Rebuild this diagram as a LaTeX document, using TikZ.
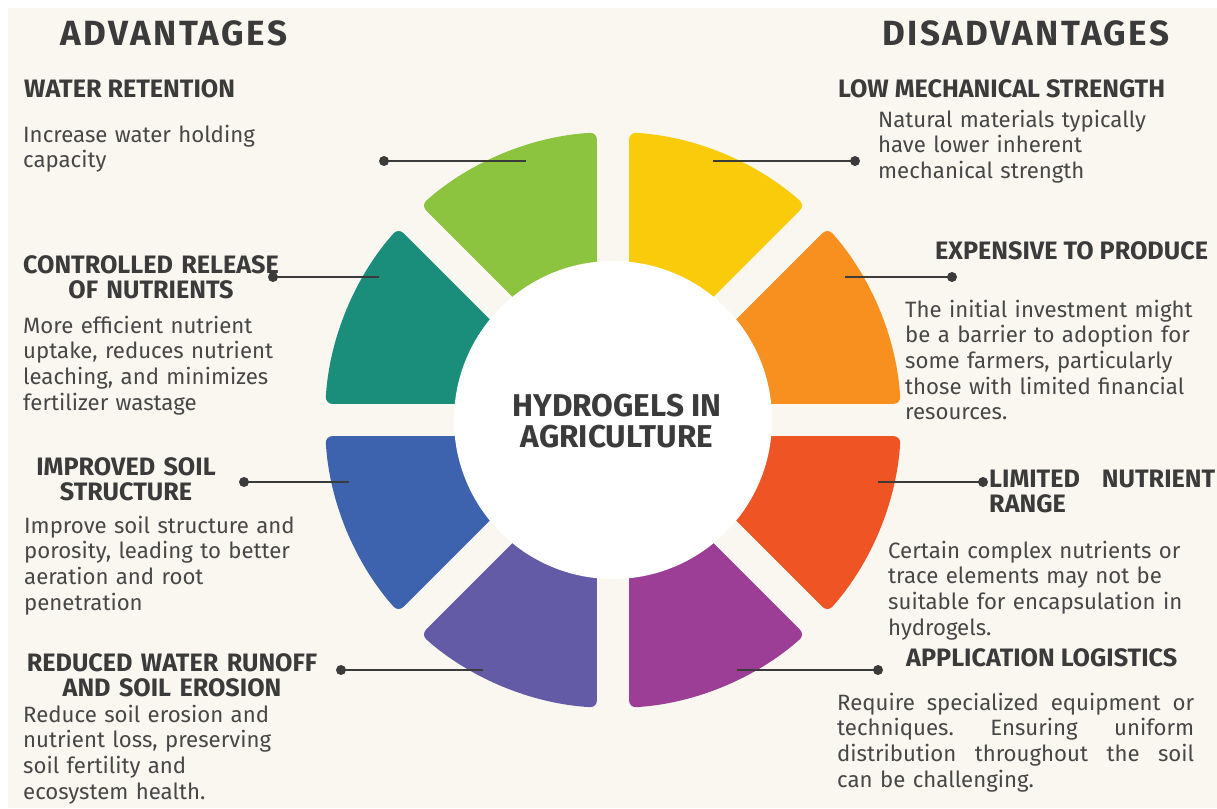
\documentclass[tikz,border=0pt]{standalone}
\usepackage{fontspec}
\setmainfont{Fira Sans}

\definecolor{bgcream}{HTML}{FAF7F1}
\definecolor{inkgray}{HTML}{3B3B3B}
\definecolor{bodygray}{HTML}{474747}
\definecolor{segorange}{HTML}{F7901E}
\definecolor{segyellow}{HTML}{F9CB0B}
\definecolor{seggreen}{HTML}{8DC43F}
\definecolor{segteal}{HTML}{1A8E7A}
\definecolor{segblue}{HTML}{3D63AE}
\definecolor{segviolet}{HTML}{645BA7}
\definecolor{segmagenta}{HTML}{9C3E96}
\definecolor{segred}{HTML}{EF5424}

\newcommand\spreadline[2]{\leavevmode\hbox to #1{#2}}

\tikzset{
  sidetitle/.style={font=\fontsize{35}{40}\selectfont\bfseries\addfontfeature{LetterSpace=7}, text=inkgray, inner sep=0pt, anchor=base},
  head/.style={font=\fontsize{25.2}{25.5}\selectfont\bfseries, text=inkgray, inner sep=0pt, anchor=base west},
  headc/.style={head, anchor=base, align=center},
  body/.style={font=\fontsize{22.2}{25.7}\selectfont, text=bodygray, inner sep=0pt, anchor=base west, align=left},
  lead/.style={draw=inkgray, line width=2.6pt},
  dot/.style={circle, fill=inkgray, inner sep=0pt, minimum size=10pt},
}

\begin{document}
\begin{tikzpicture}[x=1pt, y=1pt]
    \useasboundingbox (0,0) rectangle (1217,-808);
    \fill[white] (0,0) rectangle (1217,-808);
    \fill[bgcream] (8,-8) rectangle (1217,-808);

    \begin{scope}[shift={(613,-420)}]
        \foreach \a/\col in {0/segorange, 45/segyellow, 90/seggreen, 135/segteal,
                             180/segblue, 225/segviolet, 270/segmagenta, 315/segred}
            \fill[\col, rounded corners=7pt] (\a+22.5:42) -- (\a+3.2:288)
                arc[start angle=\a+3.2, end angle=\a+41.8, radius=288] -- cycle;
        \fill[white] (0,0) circle[radius=159];
    \end{scope}
    \node[font=\fontsize{31.5}{30.5}\selectfont\bfseries, text=inkgray, align=center, inner sep=0pt]
        (hub) at (617,-421) {HYDROGELS IN\\AGRICULTURE};

    \node[sidetitle] (adv) at (174,-46) {ADVANTAGES};
    \node[sidetitle] (dis) at (1026,-46) {DISADVANTAGES};

    % advantages
    \node[head] (water) at (24,-97) {WATER RETENTION};
    \node[body, text width=280] (waterTxt) at (23,-142) {Increase water holding\\capacity};
    \node[headc, text width=280] (ctrl) at (151,-273) {CONTROLLED RELEASE\\OF NUTRIENTS};
    \node[body, text width=280] (ctrlTxt) at (23,-333) {More efficient nutrient\\uptake, reduces nutrient\\leaching, and minimizes\\fertilizer wastage};
    \node[headc, text width=240] (soil) at (126,-475) {IMPROVED SOIL\\STRUCTURE};
    \node[body, text width=290] (soilTxt) at (24,-533) {Improve soil structure and\\porosity, leading to better\\aeration and root\\penetration};
    \node[headc, text width=310] (runoff) at (172,-671) {REDUCED WATER RUNOFF\\AND SOIL EROSION};
    \node[body, text width=280] (runoffTxt) at (23,-722) {Reduce soil erosion and\\nutrient loss, preserving\\soil fertility and\\ecosystem health.};

    % disadvantages
    \node[head] (mech) at (838,-97) {LOW MECHANICAL STRENGTH};
    \node[body, text width=300] (mechTxt) at (878,-127) {Natural materials typically\\have lower inherent\\mechanical strength};
    \node[head] (cost) at (935,-259) {EXPENSIVE TO PRODUCE};
    \node[body, text width=300] (costTxt) at (905,-317) {The initial investment might\\be a barrier to adoption for\\some farmers, particularly\\those with limited financial\\resources.};
    \node[head, text width=226, align=left] (range) at (989,-487) {\spreadline{226pt}{LIMITED\hfill NUTRIENT}\\RANGE};
    \node[body, text width=357] (rangeTxt) at (888,-558) {Certain complex nutrients or\\trace elements may not be\\suitable for encapsulation in\\hydrogels.};
    \node[head] (logi) at (906,-666) {APPLICATION LOGISTICS};
    \node[body, text width=357] (logiTxt) at (837,-710) {\spreadline{357pt}{Require\hfill specialized\hfill equipment\hfill or}\\\spreadline{357pt}{techniques.\hfill Ensuring\hfill uniform}\\\spreadline{357pt}{distribution\hfill throughout\hfill the\hfill soil}\\can be challenging.};

    % leader lines
    \node[dot] (dotWater) at (384,-161) {};
    \coordinate (segWater) at (526,-161);
    \node[dot] (dotCtrl) at (273,-277) {};
    \coordinate (segCtrl) at (379,-277);
    \node[dot] (dotSoil) at (244,-482) {};
    \coordinate (segSoil) at (349,-482);
    \node[dot] (dotRunoff) at (341,-670) {};
    \coordinate (segRunoff) at (483,-670);
    \node[dot] (dotMech) at (855,-161) {};
    \coordinate (segMech) at (713,-161);
    \node[dot] (dotCost) at (952,-277) {};
    \coordinate (segCost) at (845,-277);
    \node[dot] (dotRange) at (983,-482) {};
    \coordinate (segRange) at (878,-482);
    \node[dot] (dotLogi) at (878,-670) {};
    \coordinate (segLogi) at (737,-670);
    \foreach \n in {Water, Ctrl, Soil, Runoff, Mech, Cost, Range, Logi}
        \draw[lead] (dot\n.center) -- (seg\n);
\end{tikzpicture}
\end{document}
